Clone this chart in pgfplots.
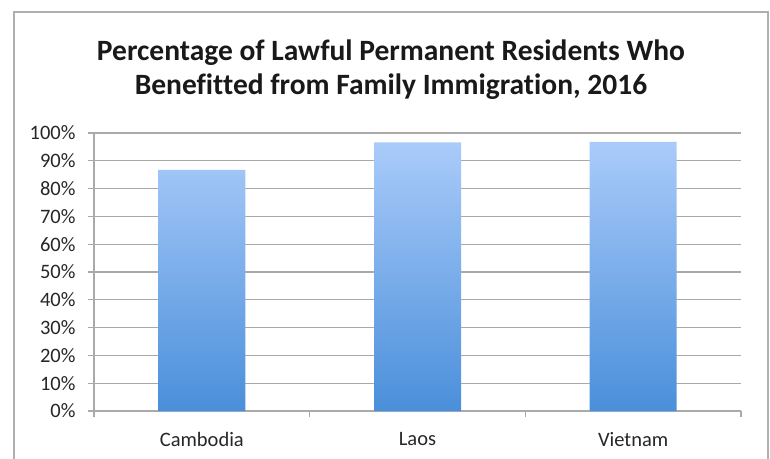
\documentclass[border=0pt]{standalone}
\usepackage{pgfplots}
\pgfplotsset{compat=1.18}
\usepackage{fontspec}
\setmainfont{Carlito}[Ligatures=NoCommon]
\definecolor{gridgray}{RGB}{170,170,170}
\definecolor{framegray}{RGB}{175,175,175}
\definecolor{bartop}{RGB}{170,203,250}
\definecolor{barbot}{RGB}{74,143,218}
\begin{document}
\begin{tikzpicture}
\clip (0pt,0pt) rectangle (770pt,458pt);
\draw[framegray, line width=1.3pt] (14pt,-10pt) rectangle (768pt,446pt);
\node[font=\bfseries\fontsize{29.5}{34}\selectfont, align=center, text=black!90] at (391pt,388pt) {Percentage of Lawful Permanent Residents Who\\Benefitted from Family Immigration, 2016};
\begin{axis}[
  at={(94pt,47pt)}, anchor=south west,
  scale only axis, width=647pt, height=278pt,
  xmin=-0.5, xmax=2.5, ymin=0, ymax=100,
  axis x line*=bottom, axis y line*=left,
  axis line style={gridgray, line width=1.2pt},
  ymajorgrids, grid style={gridgray, line width=1.2pt},
  tick align=outside,
  ytick={0,10,...,100},
  yticklabels={0\%,10\%,20\%,30\%,40\%,50\%,60\%,70\%,80\%,90\%,100\%},
  ytick style={gridgray, line width=1.2pt},
  major tick length=6pt,
  xtick={0,1,2},
  xticklabels={Cambodia,Laos,Vietnam},
  xtick style={draw=none},
  extra x ticks={-0.5,0.5,1.5,2.5},
  extra x tick labels={},
  extra x tick style={xtick style={draw=gridgray, line width=1.2pt}},
  ticklabel style={font=\fontsize{20.5}{24}\selectfont, text=black!85},
  yticklabel style={xshift=-9pt},
  xticklabel style={yshift=-12pt},
  /pgf/number format/assume math mode=true,
  ybar, bar width=87pt,
]
\addplot[draw=none, top color=bartop, bottom color=barbot] coordinates {(0,86.7) (1,96.6) (2,96.8)};
\end{axis}
\end{tikzpicture}
\end{document}
